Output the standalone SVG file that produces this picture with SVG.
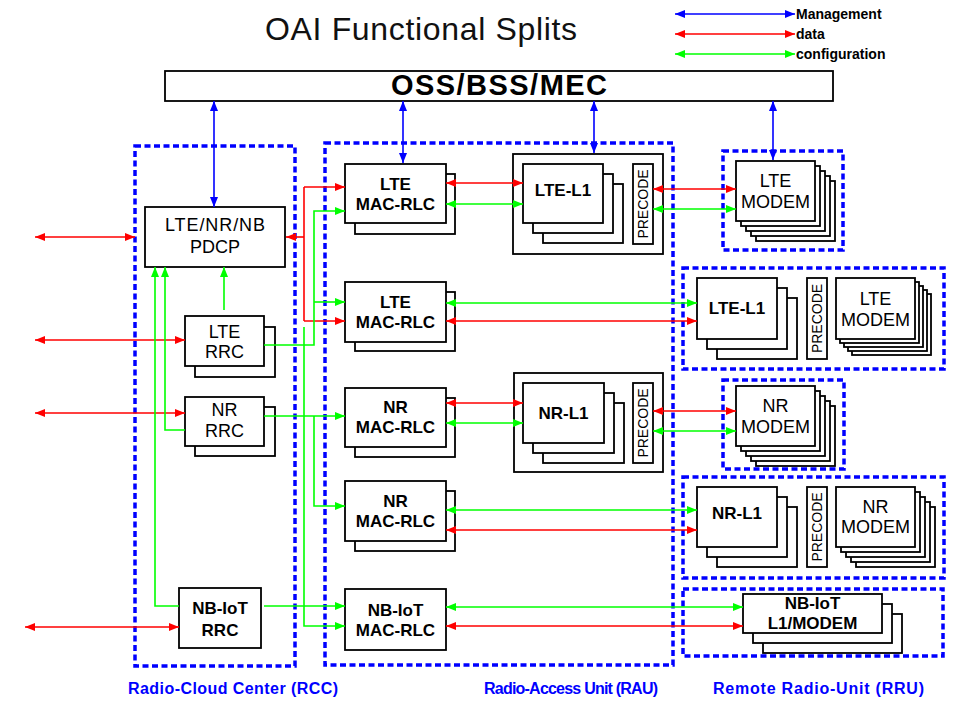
<svg xmlns="http://www.w3.org/2000/svg" width="968" height="712" viewBox="0 0 968 712">
<style>
.box{fill:#fff;stroke:#000;stroke-width:1.8}
.dash{fill:none;stroke:#0000ff;stroke-width:3.5;stroke-dasharray:6 3.5}
.t{font-family:"Liberation Sans",Arial,sans-serif;font-size:18px;text-anchor:middle;fill:#000}
.b{font-weight:bold;font-size:17px}
.pre{font-family:"Liberation Sans",Arial,sans-serif;font-size:14px;text-anchor:middle;dominant-baseline:central;fill:#000}
.cap{font-family:"Liberation Sans",Arial,sans-serif;font-size:16px;font-weight:bold;text-anchor:middle;fill:#0000ff}
.leg{font-family:"Liberation Sans",Arial,sans-serif;font-size:14px;font-weight:bold;fill:#000}
.bl{stroke:#0000ff;stroke-width:1.6;fill:none;marker-start:url(#mb);marker-end:url(#mb)}
.rd{stroke:#ff0000;stroke-width:1.6;fill:none}
.gr{stroke:#00ff00;stroke-width:1.6;fill:none}
.rd2{marker-start:url(#mr);marker-end:url(#mr)}
.gr2{marker-start:url(#mg);marker-end:url(#mg)}
.re{marker-end:url(#mr)}
.ge{marker-end:url(#mg)}
</style>
<defs>
<marker id="mb" markerUnits="userSpaceOnUse" markerWidth="11" markerHeight="8" refX="10" refY="4" orient="auto-start-reverse"><path d="M0,0 L10,4 L0,8 z" fill="#0000ff"/></marker>
<marker id="mr" markerUnits="userSpaceOnUse" markerWidth="11" markerHeight="8" refX="10" refY="4" orient="auto-start-reverse"><path d="M0,0 L10,4 L0,8 z" fill="#ff0000"/></marker>
<marker id="mg" markerUnits="userSpaceOnUse" markerWidth="11" markerHeight="8" refX="10" refY="4" orient="auto-start-reverse"><path d="M0,0 L10,4 L0,8 z" fill="#00ff00"/></marker>
</defs>
<rect width="968" height="712" fill="#fff"/>

<text x="421" y="40" font-family="Liberation Sans, Arial, sans-serif" font-size="32" text-anchor="middle" fill="#111" textLength="312">OAI Functional Splits</text>

<g id="legend">
<line class="bl" x1="675" y1="14" x2="795" y2="14"/>
<line class="rd rd2" x1="675" y1="34" x2="795" y2="34"/>
<line class="gr gr2" x1="675" y1="54" x2="795" y2="54"/>
<text class="leg" x="796" y="19">Management</text>
<text class="leg" x="796" y="39">data</text>
<text class="leg" x="796" y="59">configuration</text>
</g>

<g id="groups">
<rect class="dash" x="135" y="146" width="160" height="520"/>
<rect class="dash" x="325" y="143" width="348" height="522"/>
<rect class="dash" x="723" y="151" width="120" height="99"/>
<rect class="dash" x="683" y="268" width="261" height="101"/>
<rect class="dash" x="723" y="380" width="121" height="89"/>
<rect class="dash" x="683" y="477" width="261" height="101"/>
<rect class="dash" x="683" y="589" width="260" height="67"/>
<text class="cap" x="233" y="694" textLength="210">Radio-Cloud Center (RCC)</text>
<text class="cap" x="571" y="694" textLength="174">Radio-Access Unit (RAU)</text>
<text class="cap" x="818.5" y="694" textLength="211">Remote Radio-Unit (RRU)</text>
</g>

<g id="oss">
<rect class="box" x="165" y="71" width="668" height="30"/>
<text class="t b" x="499" y="95" style="font-size:29px" textLength="216">OSS/BSS/MEC</text>
</g>

<g id="pdcp">
<rect class="box" x="145" y="207" width="140" height="60"/>
<text class="t" x="215" y="231" textLength="100">LTE/NR/NB</text>
<text class="t" x="215" y="253">PDCP</text>
</g>
<g id="lte-rrc">
<rect class="box" x="195" y="327" width="80" height="50"/>
<rect class="box" x="185" y="316" width="79" height="50"/>
<text class="t" x="224.5" y="338">LTE</text>
<text class="t" x="224.5" y="358">RRC</text>
</g>
<g id="nr-rrc">
<rect class="box" x="195" y="407" width="80" height="49"/>
<rect class="box" x="185" y="397" width="79" height="49"/>
<text class="t" x="224.5" y="416">NR</text>
<text class="t" x="224.5" y="437">RRC</text>
</g>
<g id="nbiot-rrc">
<rect class="box" x="179" y="588" width="82" height="60"/>
<text class="t b" x="220" y="614">NB-IoT</text>
<text class="t b" x="220" y="636">RRC</text>
</g>

<g id="lte-mac1">
<rect class="box" x="355" y="174" width="100" height="60"/>
<rect class="box" x="345" y="164" width="101" height="59"/>
<text class="t b" x="395.5" y="189.5">LTE</text>
<text class="t b" x="395.5" y="209.5">MAC-RLC</text>
</g>
<g id="lte-mac2">
<rect class="box" x="355" y="292" width="100" height="59"/>
<rect class="box" x="345" y="282" width="101" height="60"/>
<text class="t b" x="395.5" y="308">LTE</text>
<text class="t b" x="395.5" y="328">MAC-RLC</text>
</g>
<g id="nr-mac1">
<rect class="box" x="355" y="398" width="100" height="59"/>
<rect class="box" x="345" y="388" width="101" height="59"/>
<text class="t b" x="395.5" y="413">NR</text>
<text class="t b" x="395.5" y="433">MAC-RLC</text>
</g>
<g id="nr-mac2">
<rect class="box" x="355" y="491" width="100" height="60"/>
<rect class="box" x="345" y="481" width="101" height="60"/>
<text class="t b" x="395.5" y="507">NR</text>
<text class="t b" x="395.5" y="527">MAC-RLC</text>
</g>
<g id="nbiot-mac">
<rect class="box" x="345" y="589" width="101" height="61"/>
<text class="t b" x="395.5" y="615.5">NB-IoT</text>
<text class="t b" x="395.5" y="635.5">MAC-RLC</text>
</g>

<g id="lte-l1-rau">
<rect class="box" x="513" y="154" width="150" height="100"/>
<rect class="box" x="543" y="184" width="80" height="59"/>
<rect class="box" x="533" y="174" width="80" height="59"/>
<rect class="box" x="523" y="164" width="80" height="59"/>
<text class="t b" x="563" y="196">LTE-L1</text>
<rect class="box" x="633" y="164" width="20" height="80"/>
<text class="pre" transform="translate(643,204) rotate(-90)">PRECODE</text>
</g>
<g id="nr-l1-rau">
<rect class="box" x="514" y="373" width="149" height="99"/>
<rect class="box" x="543" y="403" width="81" height="60"/>
<rect class="box" x="533" y="393" width="81" height="60"/>
<rect class="box" x="523" y="383" width="81" height="60"/>
<text class="t b" x="563.5" y="419">NR-L1</text>
<rect class="box" x="633" y="383" width="20" height="80"/>
<text class="pre" transform="translate(643,423) rotate(-90)">PRECODE</text>
</g>

<g id="lte-modem-1">
<rect class="box" x="756" y="181" width="79" height="60"/>
<rect class="box" x="751" y="176" width="79" height="60"/>
<rect class="box" x="746" y="171" width="79" height="60"/>
<rect class="box" x="741" y="166" width="79" height="60"/>
<rect class="box" x="736" y="161" width="79" height="60"/>
<text class="t" x="775.5" y="187">LTE</text>
<text class="t" x="775.5" y="208">MODEM</text>
</g>
<g id="lte-rru">
<rect class="box" x="717" y="298" width="80" height="61"/>
<rect class="box" x="707" y="288" width="80" height="61"/>
<rect class="box" x="697" y="278" width="80" height="61"/>
<text class="t b" x="737" y="314">LTE-L1</text>
<rect class="box" x="807" y="278" width="20" height="81"/>
<text class="pre" transform="translate(817,318.5) rotate(-90)">PRECODE</text>
<rect class="box" x="852" y="294" width="79" height="61"/>
<rect class="box" x="848" y="290" width="79" height="61"/>
<rect class="box" x="844" y="286" width="79" height="61"/>
<rect class="box" x="840" y="282" width="79" height="61"/>
<rect class="box" x="836" y="278" width="79" height="61"/>
<text class="t" x="875.5" y="305">LTE</text>
<text class="t" x="875.5" y="326">MODEM</text>
</g>
<g id="nr-modem-1">
<rect class="box" x="756" y="406" width="79" height="60"/>
<rect class="box" x="751" y="401" width="79" height="60"/>
<rect class="box" x="746" y="396" width="79" height="60"/>
<rect class="box" x="741" y="391" width="79" height="60"/>
<rect class="box" x="736" y="386" width="79" height="60"/>
<text class="t" x="775.5" y="412">NR</text>
<text class="t" x="775.5" y="433">MODEM</text>
</g>
<g id="nr-rru">
<rect class="box" x="717" y="507" width="80" height="60"/>
<rect class="box" x="707" y="497" width="80" height="60"/>
<rect class="box" x="697" y="487" width="80" height="60"/>
<text class="t b" x="737" y="519">NR-L1</text>
<rect class="box" x="807" y="487" width="20" height="80"/>
<text class="pre" transform="translate(817,527) rotate(-90)">PRECODE</text>
<rect class="box" x="856" y="507" width="79" height="60"/>
<rect class="box" x="851" y="502" width="79" height="60"/>
<rect class="box" x="846" y="497" width="79" height="60"/>
<rect class="box" x="841" y="492" width="79" height="60"/>
<rect class="box" x="836" y="487" width="79" height="60"/>
<text class="t" x="875.5" y="513">NR</text>
<text class="t" x="875.5" y="533">MODEM</text>
</g>
<g id="nbiot-l1">
<rect class="box" x="763" y="614" width="139" height="39"/>
<rect class="box" x="753" y="604" width="139" height="39"/>
<rect class="box" x="743" y="594" width="139" height="39"/>
<text class="t b" x="812.5" y="609">NB-IoT</text>
<text class="t b" x="812.5" y="629">L1/MODEM</text>
</g>

<g id="connectors">
<line class="bl" x1="214" y1="101" x2="214" y2="207"/>
<line class="bl" x1="403" y1="101" x2="403" y2="163"/>
<line class="bl" x1="594" y1="101" x2="594" y2="153"/>
<line class="bl" x1="773" y1="101" x2="773" y2="160"/>

<line class="rd rd2" x1="35" y1="237" x2="135" y2="237"/>
<line class="rd rd2" x1="35" y1="340" x2="185" y2="340"/>
<line class="rd rd2" x1="35" y1="413" x2="185" y2="413"/>
<line class="rd rd2" x1="25" y1="627" x2="179" y2="627"/>
<path class="rd" d="M304,187 V321"/>
<path class="rd re" d="M304,187 H345"/>
<path class="rd re" d="M304,321 H345"/>
<path class="rd re" d="M304,237 H286"/>
<line class="rd rd2" x1="446" y1="183" x2="523" y2="183"/>
<line class="rd rd2" x1="653" y1="189" x2="736" y2="189"/>
<line class="rd rd2" x1="446" y1="321" x2="697" y2="321"/>
<line class="rd rd2" x1="446" y1="403" x2="523" y2="403"/>
<line class="rd rd2" x1="653" y1="411" x2="736" y2="411"/>
<line class="rd rd2" x1="446" y1="530" x2="697" y2="530"/>
<line class="rd rd2" x1="446" y1="626" x2="743" y2="626"/>

<line class="gr gr2" x1="446" y1="204" x2="523" y2="204"/>
<line class="gr gr2" x1="653" y1="209" x2="736" y2="209"/>
<line class="gr gr2" x1="446" y1="303" x2="697" y2="303"/>
<line class="gr gr2" x1="446" y1="423" x2="523" y2="423"/>
<line class="gr gr2" x1="653" y1="431" x2="736" y2="431"/>
<line class="gr gr2" x1="446" y1="510" x2="697" y2="510"/>
<line class="gr gr2" x1="446" y1="607" x2="743" y2="607"/>
<path class="gr ge" d="M264,345 H314 V211 H345"/>
<path class="gr ge" d="M314,302 H345"/>
<path class="gr ge" d="M264,416 H345"/>
<path class="gr ge" d="M314,416 V506 H345"/>
<path class="gr ge" d="M304,327 V626 H345"/>
<path class="gr ge" d="M264,606 H345"/>
<path class="gr ge" d="M224,310 V267"/>
<path class="gr ge" d="M185,430 H165 V267"/>
<path class="gr ge" d="M179,606 H155 V267"/>
</g>
</svg>
